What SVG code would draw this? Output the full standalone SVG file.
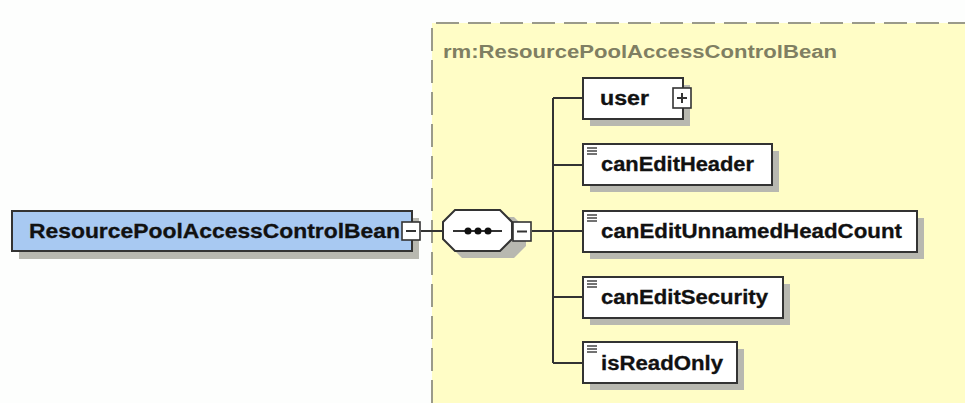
<svg xmlns="http://www.w3.org/2000/svg" width="965" height="403" viewBox="0 0 965 403">
<style>
.t{font-family:"Liberation Sans",Arial,sans-serif;font-weight:bold;font-size:20px;fill:#111;stroke:#111;stroke-width:0.3;}
.lbl{font-family:"Liberation Sans",Arial,sans-serif;font-weight:bold;font-size:18px;fill:#7f7f62;}
.box{fill:#fff;stroke:#333;stroke-width:2;}
.sh{fill:#b8b8b0;}
.ln{stroke:#333;stroke-width:2;fill:none;}
.btn{fill:#fff;stroke:#333;stroke-width:1.6;}
.ic{stroke:#444;stroke-width:1.5;}
</style>
<rect x="0" y="0" width="965" height="403" fill="#fdfefd"/>
<g id="complexType">
<rect x="432" y="23" width="540" height="390" fill="#fffdc6"/>
<path d="M432,403 V23 H965" fill="none" stroke="#9a9a8a" stroke-width="2" stroke-dasharray="23,9"/>
<text class="lbl" x="443" y="58" textLength="394" lengthAdjust="spacingAndGlyphs">rm:ResourcePoolAccessControlBean</text>
</g>
<g id="connectors">
<path class="ln" d="M421,231 H443"/>
<path class="ln" d="M532,231 H583"/>
<path class="ln" d="M553,98 V363"/>
<path class="ln" d="M553,98 H583 M553,165 H583 M553,297 H583 M553,363 H583"/>
</g>
<g id="root">
<rect class="sh" x="19" y="218" width="400" height="41"/>
<rect x="12" y="211" width="400" height="40" fill="#a8c9f2" stroke="#333" stroke-width="2"/>
<text class="t" x="29" y="238" textLength="371" lengthAdjust="spacingAndGlyphs">ResourcePoolAccessControlBean</text>
<rect class="btn" x="402" y="222" width="18" height="18"/>
<path class="ln" d="M406,231 H416" stroke-width="1.5"/>
</g>
<g id="sequence">
<path class="sh" d="M462,217 H514 L526,229 V246 L514,258 H462 L450,246 V229 Z"/>
<path d="M455,210 H500 L512,222 V239 L500,251 H455 L443,239 V222 Z" fill="#fff" stroke="#333" stroke-width="2"/>
<path class="ln" d="M453,231 H502" stroke-width="1.8"/>
<circle cx="468" cy="231" r="3.5" fill="#111"/>
<circle cx="478" cy="231" r="3.5" fill="#111"/>
<circle cx="488" cy="231" r="3.5" fill="#111"/>
<rect class="btn" x="513" y="222" width="18" height="19"/>
<path class="ln" d="M517,231.5 H527" stroke-width="1.5"/>
</g>
<g id="user">
<rect class="sh" x="590" y="85" width="100" height="41"/>
<rect class="box" x="583" y="78" width="100" height="41"/>
<text class="t" x="600" y="105" textLength="49" lengthAdjust="spacingAndGlyphs">user</text>
<rect class="btn" x="673" y="88" width="18" height="20"/>
<path class="ln" d="M677,98 H687 M682,93 V103" stroke-width="1.5"/>
</g>
<g id="canEditHeader">
<rect class="sh" x="590" y="151" width="189" height="41"/>
<rect class="box" x="583" y="144" width="189" height="41"/>
<path class="ic" d="M587,148 H597 M587,151 H597 M587,154 H597"/>
<text class="t" x="601" y="171" textLength="153" lengthAdjust="spacingAndGlyphs">canEditHeader</text>
</g>
<g id="canEditUnnamedHeadCount">
<rect class="sh" x="590" y="218" width="334" height="41"/>
<rect class="box" x="583" y="211" width="334" height="41"/>
<path class="ic" d="M587,215 H597 M587,218 H597 M587,221 H597"/>
<text class="t" x="601" y="238" textLength="301" lengthAdjust="spacingAndGlyphs">canEditUnnamedHeadCount</text>
</g>
<g id="canEditSecurity">
<rect class="sh" x="590" y="284" width="200" height="41"/>
<rect class="box" x="583" y="277" width="200" height="41"/>
<path class="ic" d="M587,281 H597 M587,284 H597 M587,287 H597"/>
<text class="t" x="601" y="304" textLength="167" lengthAdjust="spacingAndGlyphs">canEditSecurity</text>
</g>
<g id="isReadOnly">
<rect class="sh" x="590" y="349" width="154" height="41"/>
<rect class="box" x="583" y="342" width="154" height="41"/>
<path class="ic" d="M587,346 H597 M587,349 H597 M587,352 H597"/>
<text class="t" x="601" y="370" textLength="122" lengthAdjust="spacingAndGlyphs">isReadOnly</text>
</g>
</svg>
